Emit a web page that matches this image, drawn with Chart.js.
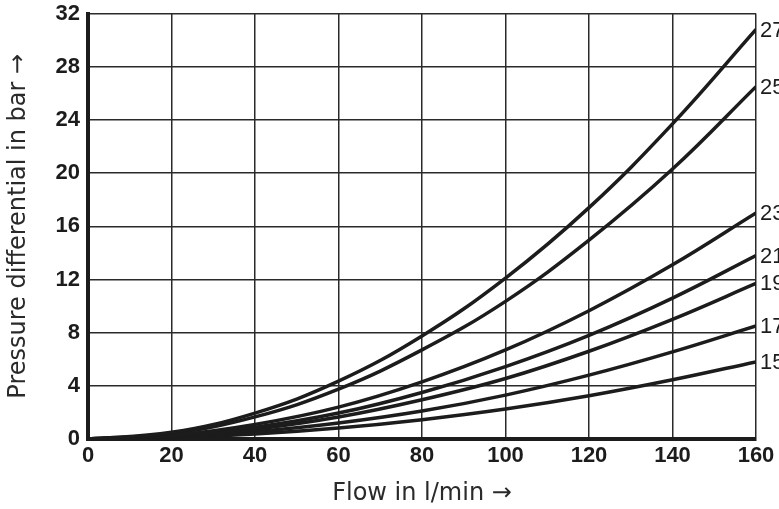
<!DOCTYPE html>
<html>
<head>
<meta charset="utf-8">
<script src="https://cdn.jsdelivr.net/npm/chart.js@4/dist/chart.umd.min.js"></script>
<style>
  html, body { margin: 0; padding: 0; background: #ffffff; }
  #wrap { width: 779px; height: 509px; }
</style>
</head>
<body>
<div id="wrap"><canvas id="c" width="779" height="509"></canvas></div>
<script>
// Flow in l/min (x) and pressure differential in bar (y)
const flow = [0, 20, 40, 60, 80, 100, 120, 140, 160];
const curveLabels = ['27', '25', '23', '21', '19', '17', '15'];
const p27 = [0, 0.5, 1.95, 4.35, 7.75, 12.1, 17.4, 23.7, 30.8];
const p25 = [0, 0.41, 1.66, 3.75, 6.7, 10.35, 14.95, 20.3, 26.5];
const p23 = [0, 0.27, 1.1, 2.4, 4.3, 6.7, 9.65, 13.1, 17.0];
const p21 = [0, 0.22, 0.88, 1.95, 3.5, 5.45, 7.8, 10.6, 13.8];
const p19 = [0, 0.18, 0.74, 1.65, 2.95, 4.55, 6.6, 9.0, 11.7];
const p17 = [0, 0.13, 0.55, 1.2, 2.1, 3.3, 4.8, 6.55, 8.5];
const p15 = [0, 0.09, 0.37, 0.82, 1.45, 2.25, 3.25, 4.45, 5.8];
const seriesValues = [p27, p25, p23, p21, p19, p17, p15];

const xTitle = 'Flow in l/min \u2192';
const yTitle = 'Pressure differential in bar \u2192';

const ink = '#1c1c1c';

const datasets = seriesValues.map((vals, i) => ({
  label: curveLabels[i],
  data: flow.map((x, j) => ({ x: x, y: vals[j] })),
  borderColor: ink,
  borderWidth: 3.5,
  pointRadius: 0,
  fill: false,
  tension: 0.4
}));

const endLabels = {
  id: 'endLabels',
  afterDatasetsDraw(chart) {
    const ctx = chart.ctx;
    ctx.save();
    ctx.font = '22px "Liberation Sans", Arial, sans-serif';
    ctx.fillStyle = ink;
    ctx.textAlign = 'left';
    ctx.textBaseline = 'middle';
    chart.data.datasets.forEach((ds, i) => {
      const meta = chart.getDatasetMeta(i);
      const pt = meta.data[meta.data.length - 1];
      ctx.fillText(ds.label, pt.x + 4, pt.y + 1);
    });
    ctx.restore();
  }
};

const whiteBg = {
  id: 'whiteBg',
  beforeDraw(chart) {
    const ctx = chart.ctx;
    ctx.save();
    ctx.fillStyle = '#ffffff';
    ctx.fillRect(0, 0, chart.width, chart.height);
    ctx.restore();
  }
};

new Chart(document.getElementById('c'), {
  type: 'line',
  data: { datasets: datasets },
  options: {
    responsive: false,
    devicePixelRatio: 1,
    animation: false,
    layout: { padding: { left: 0, right: 23, top: 13.5, bottom: 0 } },
    plugins: {
      legend: { display: false },
      tooltip: { enabled: false }
    },
    scales: {
      x: {
        type: 'linear',
        min: 0,
        max: 160,
        afterFit(scale) {
          scale.height = 70;
          scale.paddingLeft = 0;
          scale.paddingRight = 0;
        },
        ticks: {
          stepSize: 20,
          padding: 4,
          color: ink,
          font: { family: '"Liberation Sans", Arial, sans-serif', size: 22, weight: 'bold' }
        },
        grid: { color: '#2a2a2a', lineWidth: 1.5, drawTicks: false },
        border: { display: true, color: ink, width: 4 },
        title: {
          display: true,
          text: xTitle,
          color: '#2a2a2a',
          padding: { top: 0, bottom: 1 },
          font: { family: '"DejaVu Sans", sans-serif', size: 24, weight: 'normal' }
        }
      },
      y: {
        type: 'linear',
        min: 0,
        max: 32,
        afterFit(scale) {
          scale.width = 88;
          scale.paddingTop = 0;
          scale.paddingBottom = 0;
        },
        ticks: {
          stepSize: 2,
          padding: 8,
          color: ink,
          callback: (v) => (v % 4 === 0 ? String(v) : ''),
          font: { family: '"Liberation Sans", Arial, sans-serif', size: 22, weight: 'bold' }
        },
        grid: { color: '#2a2a2a', lineWidth: 1.5, drawTicks: false },
        border: { display: true, color: ink, width: 4 },
        title: {
          display: true,
          text: yTitle,
          color: '#2a2a2a',
          padding: { top: 4, bottom: 0 },
          font: { family: '"DejaVu Sans", sans-serif', size: 24, weight: 'normal' }
        }
      }
    }
  },
  plugins: [whiteBg, endLabels]
});
</script>
</body>
</html>
